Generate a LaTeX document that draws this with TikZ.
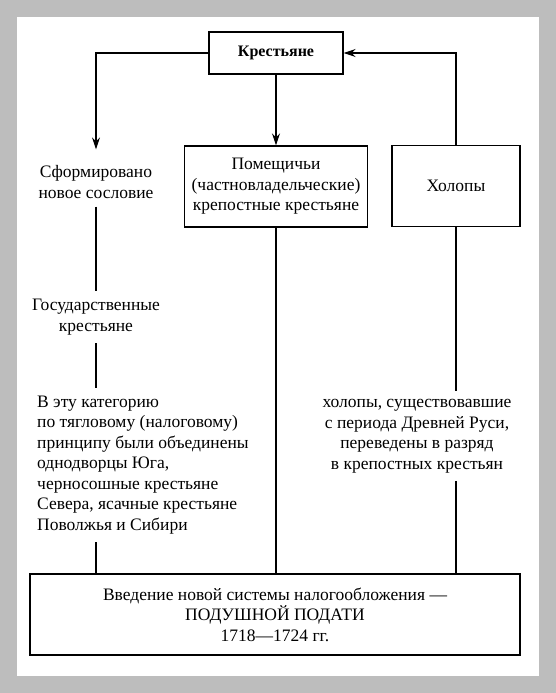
\documentclass[tikz,border=0pt]{standalone}
\usepackage{fontspec}
\setmainfont{Liberation Serif}
\usetikzlibrary{positioning,arrows.meta}
\definecolor{framegray}{HTML}{BDBDBD}
\tikzset{
txt/.style={font=\fontsize{17.5}{20.5}\selectfont},
box/.style={draw=black,line width=1.3pt,align=center,inner sep=0pt,txt},
lbl/.style={align=center,inner xsep=0pt,inner ysep=8pt,txt},
link/.style={line width=1.3pt},
downarrow/.style={-{Stealth[length=12pt,width=8pt]},line width=1.3pt}
}

\begin{document}
\begin{tikzpicture}[x=1pt,y=-1pt]
\fill[framegray] (0,0) rectangle (556,693);
\fill[white] (17,17) rectangle (539,676);

\node[box,minimum width=134pt,minimum height=42pt,font=\fontsize{16}{20}\selectfont\bfseries] (krest) at (276,53) {Крестьяне};
\node[box,minimum width=183pt,minimum height=81pt] (pomesch) at (276,186.5) {Помещичьи\\(частновладельческие)\\крепостные крестьяне};
\node[box,minimum width=128pt,minimum height=81pt] (kholopy) at (456,186) {Холопы};
\node[box,minimum width=490pt,minimum height=81pt] (podat) at (275,614.5) {Введение новой системы налогообложения ---\\ПОДУШНОЙ ПОДАТИ\\1718---1724 гг.};

\node[lbl] (sform) at (96,182) {Сформировано\\новое сословие};
\node[lbl] (gosud) at (96,317) {Государственные\\крестьяне};
\node[lbl,align=left,anchor=west] (kateg) at (37,465) {В эту категорию\\по тягловому (налоговому)\\принципу были объединены\\однодворцы Юга,\\черносошные крестьяне\\Севера, ясачные крестьяне\\Поволжья и Сибири};
\node[lbl] (kholtext) at (417,436) {холопы, существовавшие\\с периода Древней Руси,\\переведены в разряд\\в крепостных крестьян};

\draw[downarrow] (krest.west) -| ([yshift=8pt]sform.north);
\draw[downarrow] (krest.south) -- (krest.south |- pomesch.north);
\draw[downarrow] (kholopy.north) |- (krest.east);

\draw[link] (sform.south) -- (gosud.north);
\draw[link] (gosud.south) -- (gosud.south |- kateg.north);
\draw[link] (gosud.south |- kateg.south) -- (gosud.south |- podat.north);
\draw[link] (pomesch.south) -- (pomesch.south |- podat.north);
\draw[link] (kholopy.south) -- (kholopy.south |- kholtext.north);
\draw[link] (kholopy.south |- kholtext.south) -- (kholopy.south |- podat.north);
\end{tikzpicture}
\end{document}
